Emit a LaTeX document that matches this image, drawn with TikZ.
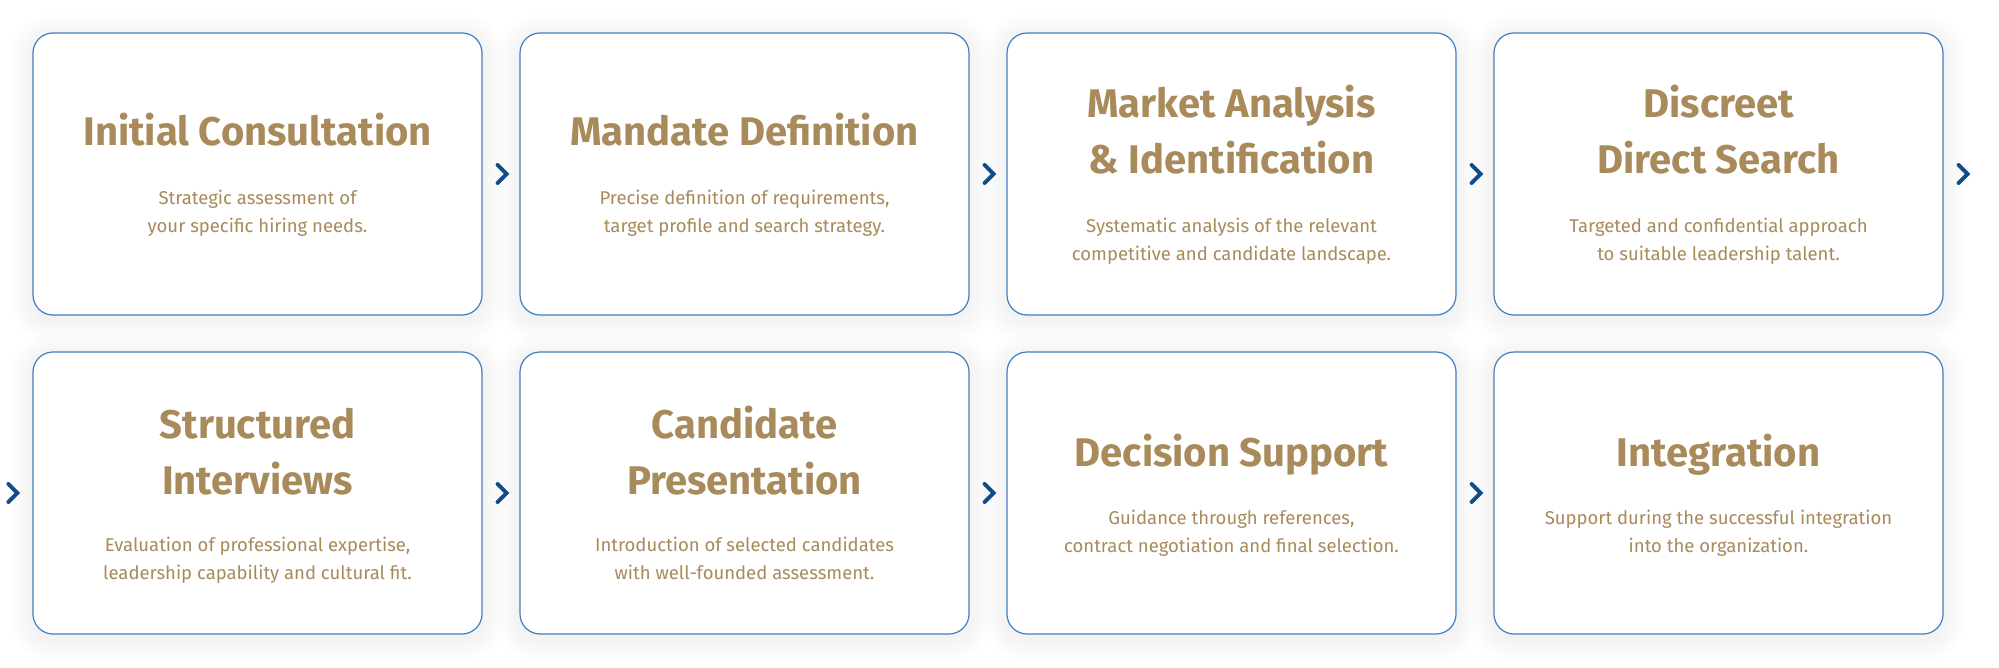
\documentclass[tikz,border=0pt]{standalone}
\usepackage{fontspec}
\setmainfont{Fira Sans}
\usetikzlibrary{positioning}
\definecolor{gold}{HTML}{A88A5B}
\definecolor{frame}{HTML}{3F7FC0}
\definecolor{navy}{HTML}{0F4C8A}

\begin{document}
\begin{tikzpicture}[x=1pt, y=-1pt]
	\tikzstyle{Card}  = [draw=frame, line width=1.2pt, fill=white, rounded corners=20pt, minimum width=449pt, minimum height=282pt, inner sep=0pt]
	\tikzstyle{Title} = [anchor=base, align=center, text=gold, font=\fontsize{40}{56}\selectfont\bfseries]
	\tikzstyle{Text}  = [anchor=base, align=center, text=gold, font=\fontsize{18.5}{28}\selectfont]
	\tikzstyle{Chev}  = [navy, line width=4pt, line cap=round]
	\tikzstyle{Shade} = [black, opacity=0.0035]

	\fill [white] (0,0) rectangle (1999,668);
	\useasboundingbox (0,0) rectangle (1999,668);

	% soft shadows under the cards
	\foreach \cx/\cy in {257.5/174, 744.5/174, 1231.5/174, 1718.5/174, 257.5/493, 744.5/493, 1231.5/493, 1718.5/493}
		\foreach \r in {2,4,...,24}
			\fill [Shade, rounded corners=20pt+\r pt] (\cx-224.5-\r, \cy-137-\r) rectangle (\cx+224.5+\r, \cy+145+\r);

	% first row (base = last line)
	\node (b1) at (257.5, 174) [Card] {};
	\node (t1) at (257.5, 146) [Title] {Initial Consultation};
	\node (d1) at (257.5, 233) [Text] {Strategic assessment of\\your specific hiring needs.};

	\node (b2) at (744.5, 174) [Card] {};
	\node (t2) at (744.5, 146) [Title] {Mandate Definition};
	\node (d2) at (744.5, 233) [Text] {Precise definition of requirements,\\target profile and search strategy.};

	\node (b3) at (1231.5, 174) [Card] {};
	\node (t3) at (1231.5, 174) [Title] {Market Analysis\\\& Identification};
	\node (d3) at (1231.5, 261) [Text] {Systematic analysis of the relevant\\competitive and candidate landscape.};

	\node (b4) at (1718.5, 174) [Card] {};
	\node (t4) at (1718.5, 174) [Title] {Discreet\\Direct Search};
	\node (d4) at (1718.5, 261) [Text] {Targeted and confidential approach\\to suitable leadership talent.};

	% second row
	\node (b5) at (257.5, 493) [Card] {};
	\node (t5) at (257.5, 494) [Title] {Structured\\Interviews};
	\node (d5) at (257.5, 579) [Text] {Evaluation of professional expertise,\\leadership capability and cultural fit.};

	\node (b6) at (744.5, 493) [Card] {};
	\node (t6) at (744.5, 494) [Title] {Candidate\\Presentation};
	\node (d6) at (744.5, 579) [Text] {Introduction of selected candidates\\with well-founded assessment.};

	\node (b7) at (1231.5, 493) [Card] {};
	\node (t7) at (1231.5, 466) [Title] {Decision Support};
	\node (d7) at (1231.5, 552) [Text] {Guidance through references,\\contract negotiation and final selection.};

	\node (b8) at (1718.5, 493) [Card] {};
	\node (t8) at (1718.5, 466) [Title] {Integration};
	\node (d8) at (1718.5, 552) [Text] {Support during the successful integration\\into the organization.};

	% chevrons between the cards
	\coordinate (c1) at ([xshift=19.5pt]b1.east);
	\coordinate (c2) at ([xshift=19.5pt]b2.east);
	\coordinate (c3) at ([xshift=19.5pt]b3.east);
	\coordinate (c4) at ([xshift=19.5pt]b4.east);
	\coordinate (c5) at ([xshift=-19.5pt]b5.west);
	\coordinate (c6) at ([xshift=19.5pt]b5.east);
	\coordinate (c7) at ([xshift=19.5pt]b6.east);
	\coordinate (c8) at ([xshift=19.5pt]b7.east);
	\foreach \c in {c1,c2,c3,c4,c5,c6,c7,c8}
		\draw [Chev] ([shift={(-4.5pt,9pt)}]\c) -- ++(9,9) -- ++(-9,9);
\end{tikzpicture}
\end{document}
